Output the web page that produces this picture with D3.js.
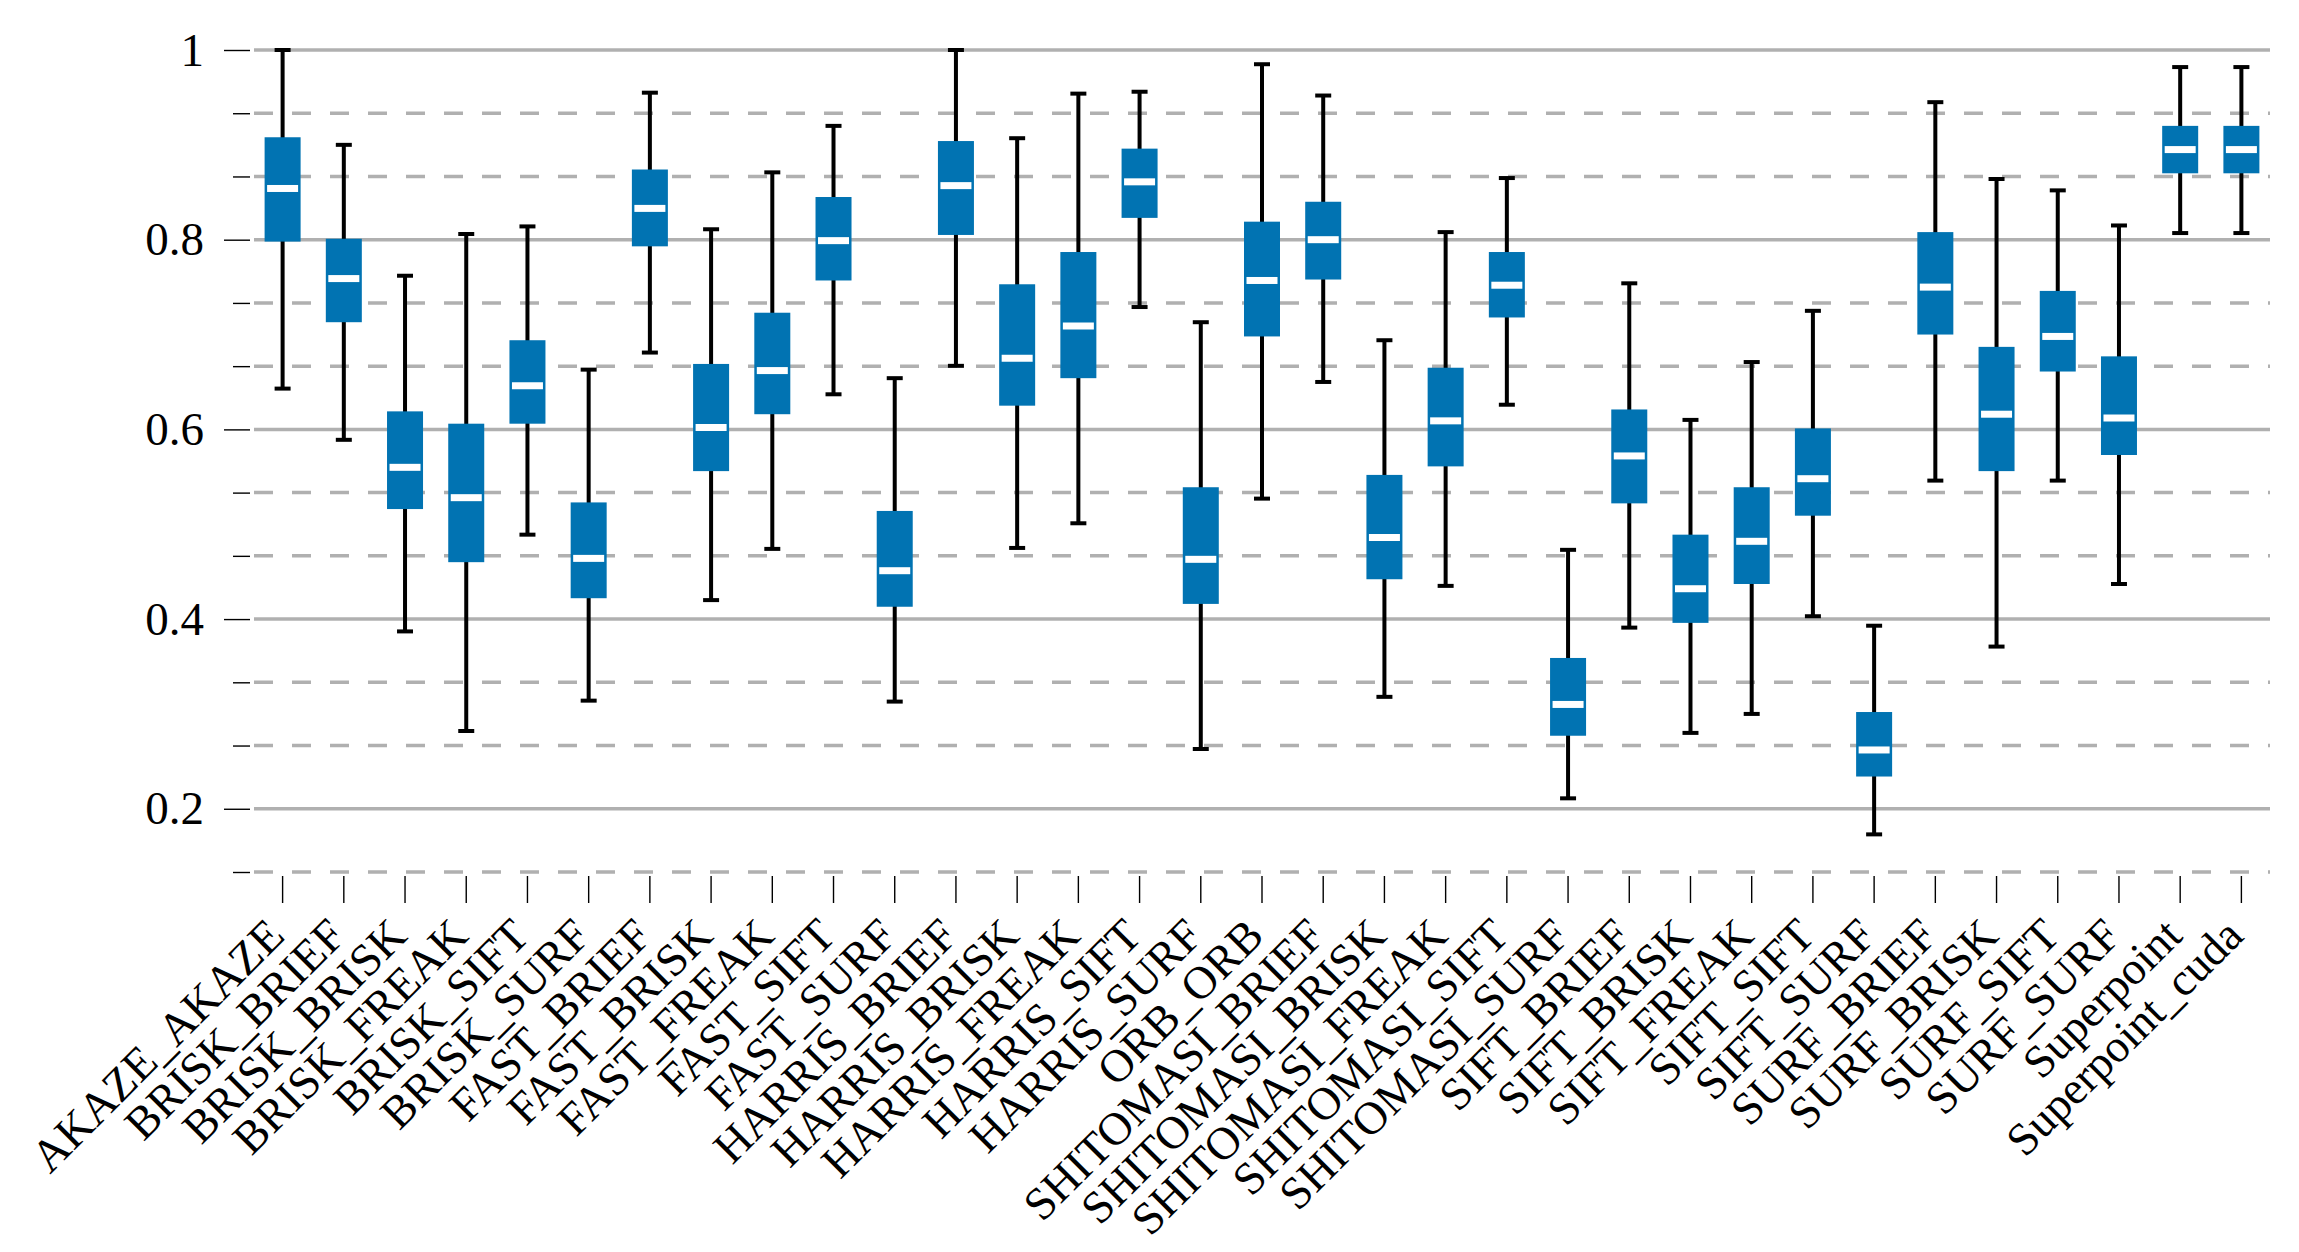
<!DOCTYPE html>
<html>
<head>
<meta charset="utf-8">
<script src="https://cdn.jsdelivr.net/npm/d3@7"></script>
<style>
  body { margin: 0; background: #fff; }
  text { font-family: "Liberation Serif", "DejaVu Serif", serif; fill: #000; }
</style>
</head>
<body>
<div id="chart"></div>
<script>
// matcher names, one box per name
var names = ["AKAZE_AKAZE", "BRISK_BRIEF", "BRISK_BRISK", "BRISK_FREAK", "BRISK_SIFT", "BRISK_SURF",
  "FAST_BRIEF", "FAST_BRISK", "FAST_FREAK", "FAST_SIFT", "FAST_SURF",
  "HARRIS_BRIEF", "HARRIS_BRISK", "HARRIS_FREAK", "HARRIS_SIFT", "HARRIS_SURF", "ORB_ORB",
  "SHITOMASI_BRIEF", "SHITOMASI_BRISK", "SHITOMASI_FREAK", "SHITOMASI_SIFT", "SHITOMASI_SURF",
  "SIFT_BRIEF", "SIFT_BRISK", "SIFT_FREAK", "SIFT_SIFT", "SIFT_SURF",
  "SURF_BRIEF", "SURF_BRISK", "SURF_SIFT", "SURF_SURF", "Superpoint", "Superpoint_cuda"];

var whiskerLow = [0.643, 0.589, 0.387, 0.282, 0.489, 0.314, 0.681, 0.420, 0.474, 0.637, 0.313,
  0.667, 0.475, 0.501, 0.729, 0.263, 0.527, 0.650, 0.318, 0.435, 0.626, 0.211,
  0.391, 0.280, 0.300, 0.403, 0.173, 0.546, 0.371, 0.546, 0.437, 0.807, 0.807];
var q1 = [0.798, 0.713, 0.516, 0.460, 0.606, 0.422, 0.793, 0.556, 0.616, 0.757, 0.413,
  0.805, 0.625, 0.654, 0.823, 0.416, 0.698, 0.758, 0.442, 0.561, 0.718, 0.277,
  0.522, 0.396, 0.437, 0.509, 0.234, 0.700, 0.556, 0.661, 0.573, 0.870, 0.870];
var median = [0.854, 0.759, 0.560, 0.528, 0.646, 0.464, 0.833, 0.602, 0.662, 0.799, 0.451,
  0.857, 0.675, 0.709, 0.861, 0.463, 0.757, 0.800, 0.486, 0.609, 0.752, 0.310,
  0.572, 0.432, 0.482, 0.548, 0.262, 0.750, 0.616, 0.698, 0.612, 0.895, 0.895];
var q3 = [0.908, 0.801, 0.619, 0.606, 0.694, 0.523, 0.874, 0.669, 0.723, 0.845, 0.514,
  0.904, 0.753, 0.787, 0.896, 0.539, 0.819, 0.840, 0.552, 0.665, 0.787, 0.359,
  0.621, 0.489, 0.539, 0.601, 0.302, 0.808, 0.687, 0.746, 0.677, 0.920, 0.920];
var whiskerHigh = [1.000, 0.900, 0.762, 0.806, 0.814, 0.663, 0.955, 0.811, 0.871, 0.920, 0.654,
  1.000, 0.907, 0.954, 0.956, 0.713, 0.985, 0.952, 0.694, 0.808, 0.865, 0.473,
  0.754, 0.610, 0.671, 0.725, 0.393, 0.945, 0.864, 0.852, 0.815, 0.982, 0.982];

var majorTicks = [0.2, 0.4, 0.6, 0.8, 1];
var minorTicks = [2/15, 4/15, 5/15, 7/15, 8/15, 10/15, 11/15, 13/15, 14/15];

var width = 2299, height = 1252;
var blue = "#0173b2", grid = "#b0b0b0";

var svg = d3.select("#chart").append("svg")
    .attr("width", width)
    .attr("height", height);

svg.append("rect").attr("width", width).attr("height", height).attr("fill", "#fff");

var x = d3.scaleBand()
    .domain(names)
    .range([252, 2272]);

var y = d3.scaleLinear()
    .domain([2/15, 1])
    .range([872, 50]);

// grid lines
svg.append("g").selectAll("line.minor")
    .data(minorTicks)
  .enter().append("line")
    .attr("x1", 254).attr("x2", 2270)
    .attr("y1", function(d) { return y(d); })
    .attr("y2", function(d) { return y(d); })
    .attr("stroke", grid)
    .attr("stroke-width", 3.5)
    .attr("stroke-dasharray", "19,19");

svg.append("g").selectAll("line.major")
    .data(majorTicks)
  .enter().append("line")
    .attr("x1", 254).attr("x2", 2270)
    .attr("y1", function(d) { return y(d); })
    .attr("y2", function(d) { return y(d); })
    .attr("stroke", grid)
    .attr("stroke-width", 3.5);

// y axis
var yAxis = svg.append("g")
    .attr("transform", "translate(250,0)")
    .call(d3.axisLeft(y).tickValues(majorTicks).tickSize(26).tickPadding(20)
      .tickFormat(function(d) { return d === 1 ? "1" : d3.format(".1f")(d); }));

svg.append("g")
    .attr("transform", "translate(250,0)")
    .call(d3.axisLeft(y).tickValues(minorTicks).tickSize(17).tickFormat(""));

svg.selectAll(".domain").remove();
svg.selectAll(".tick line").attr("stroke", "#000").attr("stroke-width", 1.4);
yAxis.selectAll(".tick text")
    .attr("font-size", 47)
    .attr("fill", "#000");

// x axis
var xAxis = svg.append("g")
    .attr("transform", "translate(0,876)")
    .call(d3.axisBottom(x).tickSize(27).tickPadding(0));

xAxis.select(".domain").remove();
xAxis.selectAll(".tick line").attr("stroke", "#000").attr("stroke-width", 1.4);
xAxis.selectAll(".tick text")
    .attr("font-size", 46)
    .attr("fill", "#000")
    .attr("text-anchor", "end")
    .attr("dy", null)
    .attr("y", null)
    .attr("transform", "translate(4,62) rotate(-45)");

// boxes
var data = names.map(function(n, i) {
  return {name: n, lo: whiskerLow[i], q1: q1[i], med: median[i], q3: q3[i], hi: whiskerHigh[i]};
});

var boxW = 36, capW = 16, medW = 31;

var g = svg.append("g").selectAll("g.box")
    .data(data)
  .enter().append("g")
    .attr("transform", function(d) { return "translate(" + (x(d.name) + x.bandwidth() / 2) + ",0)"; });

g.append("line")
    .attr("y1", function(d) { return y(d.hi); })
    .attr("y2", function(d) { return y(d.lo); })
    .attr("stroke", "#000")
    .attr("stroke-width", 4);

g.append("line")
    .attr("x1", -capW / 2).attr("x2", capW / 2)
    .attr("y1", function(d) { return y(d.hi); })
    .attr("y2", function(d) { return y(d.hi); })
    .attr("stroke", "#000")
    .attr("stroke-width", 4);

g.append("line")
    .attr("x1", -capW / 2).attr("x2", capW / 2)
    .attr("y1", function(d) { return y(d.lo); })
    .attr("y2", function(d) { return y(d.lo); })
    .attr("stroke", "#000")
    .attr("stroke-width", 4);

g.append("rect")
    .attr("x", -boxW / 2)
    .attr("width", boxW)
    .attr("y", function(d) { return y(d.q3); })
    .attr("height", function(d) { return y(d.q1) - y(d.q3); })
    .attr("fill", blue);

g.append("rect")
    .attr("x", -medW / 2)
    .attr("width", medW)
    .attr("y", function(d) { return y(d.med) - 3.5; })
    .attr("height", 7)
    .attr("fill", "#fff");
</script>
</body>
</html>
